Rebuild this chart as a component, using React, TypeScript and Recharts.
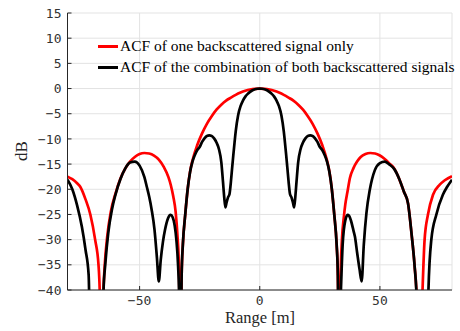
import React from 'react';
import { LineChart, Line, XAxis, YAxis, CartesianGrid, Legend } from 'recharts';

// Range [m] / dB readings for "ACF of one backscattered signal only"
const redX = [
  -80, -78, -76, -74.7, -72.5, -70.5, -68.5, -67.1, -66.5, -66, -65.2, -64.5, -63.5, -62, -60, -58, -56, -54, -52, -50,
  -48, -46, -44, -42, -40, -38, -37, -36, -35, -34.2, -33.6, -33, -32.5, -32, -31, -30, -29, -28, -26, -24,
  -22, -20, -18, -16, -14, -12, -10, -8, -6, -4, -2, 0, 2, 4, 6, 8, 10, 12, 14, 16,
  18, 20, 22, 24, 26, 28, 29, 30, 31, 32, 32.5, 33, 33.6, 34.2, 35, 35.6, 36.5, 37.5, 39, 40.5,
  42, 44, 46, 48, 50, 52, 54, 56, 58, 60, 61.7, 63.2, 64.4, 65.6, 66.5, 67.6, 68.6, 70, 72.1, 74.9,
  77, 80,
];
const redY = [
  -17.5, -18, -18.8, -19.5, -22, -25, -30, -35, -42, -60, -42, -35, -29.5, -24.5, -20.8, -17.9, -15.9, -14.5, -13.6, -13,
  -12.8, -12.9, -13.3, -14.1, -15.5, -17.6, -19.2, -21.4, -24.5, -29.5, -36, -60, -37, -31, -25, -20, -16.5, -14.3, -11.2, -8.9,
  -7, -5.5, -4.2, -3.2, -2.4, -1.8, -1.25, -0.8, -0.45, -0.2, -0.05, 0, -0.05, -0.2, -0.45, -0.8, -1.25, -1.8, -2.4, -3.2,
  -4.2, -5.5, -7, -8.9, -11.2, -14.3, -16.5, -20, -25, -31, -37, -60, -38, -30, -25.5, -23, -20.5, -17.8, -15.8, -14.5,
  -13.6, -13, -12.8, -12.9, -13.3, -14, -14.9, -15.9, -17.9, -20.5, -22.8, -29, -35, -44, -60, -42, -30, -25, -21.1, -19.1,
  -18.2, -17.4,
];

// Range [m] / dB readings for "ACF of the combination of both backscattered signals"
const blackX = [
  -80, -78, -76, -74, -72.5, -71.2, -70.2, -65.8, -65, -64.3, -63, -61.5, -60, -58, -56, -54, -52, -50, -48, -47,
  -46, -45, -43.8, -42.8, -42, -41.2, -40.3, -39.4, -38.2, -37.1, -36.2, -35.4, -34.7, -34, -33.5, -33, -32.5, -32, -31, -30,
  -29, -28, -27, -26, -25, -24, -23, -22, -21, -20, -19, -18, -17, -16, -15.3, -14.8, -14.3, -13.8, -13.2, -12.6,
  -12, -11.5, -11, -10.5, -10, -9, -8, -7, -6, -5, -4, -3, -2, -1, 0, 1, 2, 3, 4, 5,
  6, 7, 8, 9, 10, 10.5, 11, 11.5, 12, 12.6, 13.2, 13.8, 14.3, 14.8, 15.3, 16, 17, 18, 19, 20,
  21, 22, 23, 24, 25, 26, 27, 28, 29, 30, 31, 32, 32.5, 33, 33.5, 34, 34.5, 35, 35.6, 36.5,
  37.2, 38, 39, 39.6, 40.5, 41.5, 42.4, 43.3, 44.4, 45.8, 47.9, 50, 52, 54, 56, 58, 60, 61.7, 63.2, 64.4,
  65.3, 66, 69.5, 70.2, 71.4, 73.5, 76.2, 78, 80,
];
const blackY = [
  -18.1, -20, -23.2, -27.5, -32, -37, -60, -60, -40, -35, -28.5, -24, -21, -18, -15.9, -14.7, -14.5, -15.3, -17.6, -19.5,
  -21.5, -24, -28, -33.5, -38.3, -34, -30.5, -28, -25.8, -25.1, -25.6, -27.2, -30, -35, -42, -60, -37, -31, -25, -20,
  -16.6, -14.5, -13.2, -12.2, -11.6, -10.6, -9.9, -9.4, -9.3, -9.4, -9.9, -10.7, -12, -14.6, -18.5, -21.5, -23.6, -22.6, -21.6, -21,
  -18.5, -15.8, -13.2, -10.8, -8.5, -5.3, -3.5, -2.4, -1.6, -1.05, -0.65, -0.35, -0.15, -0.04, 0, -0.04, -0.15, -0.35, -0.65, -1.05,
  -1.6, -2.4, -3.5, -5.3, -8.5, -10.8, -13.2, -15.8, -18.5, -21, -21.6, -22.6, -23.6, -21.5, -18.5, -14.6, -12, -10.7, -9.9, -9.4,
  -9.3, -9.4, -9.9, -10.6, -11.6, -12.2, -13.2, -14.5, -16.6, -20, -25, -31, -37, -60, -45, -37, -31, -28, -26.2, -25.1,
  -25.3, -26.3, -28.2, -29.4, -32.5, -35.8, -38.3, -31, -24.7, -20.1, -16.2, -14.8, -14.5, -15.1, -16, -17.9, -20.5, -22.8, -29, -35,
  -42, -60, -60, -40, -30, -25, -21.1, -19.5, -18.1,
];

const xTicks = [-50, 0, 50];
const yTicks = [-40, -35, -30, -25, -20, -15, -10, -5, 0, 5, 10, 15];
const seriesNames = [
  'ACF of one backscattered signal only',
  'ACF of the combination of both backscattered signals',
];
const seriesColors = ['#ff0000', '#000000'];
const xLabel = 'Range [m]';
const yLabel = 'dB';

const redData = redX.map((x, i) => ({ x, y: redY[i] }));
const blackData = blackX.map((x, i) => ({ x, y: blackY[i] }));

const AXIS = '#262626';
const TICK_FONT = "'DejaVu Sans Mono', monospace";
const SERIF = "'Liberation Serif', 'DejaVu Serif', serif";

const fmt = (v: number) => (v < 0 ? '\u2212' + Math.abs(v) : String(v));

function XTick(props: any) {
  const { x, y, payload } = props;
  return (
    <g>
      <line x1={x} x2={x} y1={y - 6} y2={y - 10} stroke={AXIS} strokeWidth={1} />
      <text x={x} y={y + 9} textAnchor="middle" fill="#333" fontFamily={TICK_FONT} fontSize={13}>
        {fmt(payload.value)}
      </text>
    </g>
  );
}

function YTick(props: any) {
  const { x, y, payload } = props;
  return (
    <g>
      <line x1={x + 6} x2={x + 10} y1={y} y2={y} stroke={AXIS} strokeWidth={1} />
      <text x={x} y={y} dy="0.36em" textAnchor="end" fill="#333" fontFamily={TICK_FONT} fontSize={13}>
        {fmt(payload.value)}
      </text>
    </g>
  );
}

function LegendBox() {
  return (
    <div style={{ fontFamily: SERIF, fontSize: 15.5, color: '#000', whiteSpace: 'nowrap' }}>
      {seriesNames.map((name, i) => (
        <div key={name} style={{ height: 21, lineHeight: '21px' }}>
          <span
            style={{
              display: 'inline-block',
              width: 20,
              height: 3,
              background: seriesColors[i],
              verticalAlign: 'middle',
              marginRight: 2,
            }}
          />
          {name}
        </div>
      ))}
    </div>
  );
}

export default function App() {
  return (
    <div style={{ position: 'absolute', left: 0, top: 0, width: 460, height: 331, background: '#fff' }}>
      <LineChart width={460} height={331} margin={{ top: 13, right: 8, left: 0, bottom: 0 }}>
        <CartesianGrid stroke="#e3e3e3" strokeWidth={1} />
        <XAxis
          type="number"
          dataKey="x"
          domain={[-80, 80]}
          ticks={xTicks}
          allowDataOverflow
          height={41}
          tickSize={0}
          tickMargin={6}
          tick={<XTick />}
          axisLine={{ stroke: AXIS, strokeWidth: 1 }}
          tickLine={false}
          label={{
            content: () => (
              <text x={260} y={323} textAnchor="middle" fontFamily={SERIF} fontSize={16.5} fill="#262626">
                {xLabel}
              </text>
            ),
          }}
        />
        <YAxis
          type="number"
          domain={[-40, 15]}
          ticks={yTicks}
          allowDataOverflow
          width={67.5}
          tickSize={0}
          tickMargin={6}
          tick={<YTick />}
          axisLine={{ stroke: AXIS, strokeWidth: 1 }}
          tickLine={false}
          label={{
            content: () => (
              <text
                x={27}
                y={151}
                transform="rotate(-90 27 151)"
                textAnchor="middle"
                fontFamily={SERIF}
                fontSize={17}
                fill="#262626"
              >
                {yLabel}
              </text>
            ),
          }}
        />
        <Legend
          layout="vertical"
          align="center"
          verticalAlign="middle"
          wrapperStyle={{ left: 98, top: 34.5, width: 'auto' }}
          content={<LegendBox />}
        />
        <Line
          data={redData}
          dataKey="y"
          name={seriesNames[0]}
          type="monotone"
          stroke={seriesColors[0]}
          strokeWidth={2.7}
          dot={false}
          activeDot={false}
          isAnimationActive={false}
        />
        <Line
          data={blackData}
          dataKey="y"
          name={seriesNames[1]}
          type="monotone"
          stroke={seriesColors[1]}
          strokeWidth={2.7}
          dot={false}
          activeDot={false}
          isAnimationActive={false}
        />
      </LineChart>
    </div>
  );
}
